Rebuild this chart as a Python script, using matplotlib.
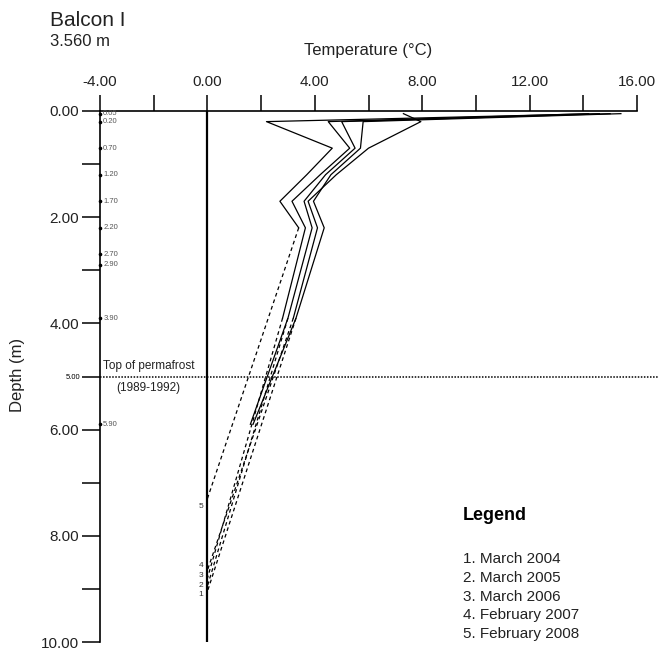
import numpy as np
import matplotlib
matplotlib.use("Agg")
import matplotlib.pyplot as plt

plt.rcParams['font.family'] = ['Liberation Sans', 'DejaVu Sans']

# Sensor depths (m) and measured temperatures (°C) for each profile
depths = [0.05, 0.20, 0.70, 1.20, 1.70, 2.20, 3.90, 5.90]
t_2004 = [15.4, 5.8, 5.7, 4.6, 3.95, 4.35, 3.3, 1.7]
t_2005 = [15.0, 5.0, 5.5, 4.4, 3.6, 3.9, 3.0, 1.6]
t_2006 = [14.2, 4.5, 5.3, 4.2, 3.15, 3.65, 2.8, np.nan]
t_2007 = [7.3, 7.95, 6.0, 4.8, 3.75, 4.1, 3.2, np.nan]
t_2008 = [14.6, 2.2, 4.65, 3.7, 2.7, 3.4, np.nan, np.nan]
profiles = [t_2004, t_2005, t_2006, t_2007, t_2008]

# Extrapolation (dashed): starting depth and depth of 0 °C
dash_start = [3.9, 3.9, 3.9, 3.9, 2.2]
zero_depth = [9.05, 8.95, 8.8, 8.65, 7.3]
profile_ids = ['1', '2', '3', '4', '5']
# small vertical nudges (m) so the crowded end labels stay readable
label_nudge = [0.05, -0.02, -0.06, -0.1, 0.15]

legend_items = ['1. March 2004', '2. March 2005', '3. March 2006',
                '4. February 2007', '5. February 2008']

sensor_depths = [0.05, 0.20, 0.70, 1.20, 1.70, 2.20, 2.70, 2.90, 3.90, 5.90]

x_major = [-4, 0, 4, 8, 12, 16]
x_minor = [-2, 2, 6, 10, 14]
y_major = [0, 2, 4, 6, 8, 10]
y_minor = [1, 3, 5, 7, 9]
permafrost_depth = 5.0

W, H = 660, 655
fig = plt.figure(figsize=(W / 100, H / 100), dpi=100)
ax = fig.add_axes([100 / W, 1 - 642 / H, 558.5 / W, 531 / H])

# Profiles (solid) and extrapolations (dashed)
for temps, d0, dz, pid, nud in zip(profiles, dash_start, zero_depth, profile_ids, label_nudge):
    ax.plot(temps, depths, color='black', lw=0.9)
    t0 = temps[depths.index(d0)]
    ax.plot([t0, 0], [d0, dz], color='black', lw=0.9, ls=(0, (3, 2.5)))
    ax.text(-0.15, dz + nud, pid, ha='right', va='center', fontsize=6, color='#333333')

# Zero line and top of permafrost
ax.axvline(0, color='black', lw=1.6)
ax.axhline(permafrost_depth, color='black', lw=1.1, ls=(0, (1, 1)))
ax.text(-3.9, permafrost_depth - 0.08, 'Top of permafrost', fontsize=8.5,
        ha='left', va='bottom', color='#222222')
ax.text(-3.4, permafrost_depth + 0.22, '(1989-1992)', fontsize=8.5,
        ha='left', va='center', color='#222222')

# Sensor depth markers on left axis
for d in sensor_depths:
    ax.plot(-4, d, marker='o', ms=1.6, color='black', clip_on=False)
    ax.text(-3.88, d, '%.2f' % d, fontsize=5.5, ha='left', va='center', color='#555555')

ax.set_xlim(-4, 16.8)
ax.set_ylim(10, 0)

# Axes styling
for s in ['right', 'bottom']:
    ax.spines[s].set_visible(False)
ax.spines['top'].set_bounds(-4, 16)
ax.spines['top'].set_linewidth(1.2)
ax.spines['left'].set_linewidth(1.2)

ax.xaxis.tick_top()
ax.set_xticks(x_major, ['%.2f' % v for v in x_major])
ax.set_xticks(x_minor, minor=True)
ax.set_yticks(y_major, ['%.2f' % v for v in y_major])
ax.set_yticks(y_minor, ['5.00' if v == 5 else '' for v in y_minor], minor=True)
ax.tick_params(axis='x', which='both', length=11.5, width=1.1, labelsize=11, pad=4, colors='black')
ax.tick_params(axis='y', which='both', length=13, width=1.1, labelsize=11, pad=2)
ax.tick_params(axis='y', which='minor', labelsize=5.5, pad=1)
for lbl in ax.get_xticklabels() + ax.get_yticklabels():
    lbl.set_color('#222222')

# Titles and labels
fig.text(50 / W, 1 - 21 / H, 'Balcon I', fontsize=15, ha='left', va='center', color='#222222')
fig.text(50 / W, 1 - 41 / H, '3.560 m', fontsize=12, ha='left', va='center', color='#222222')
fig.text(368 / W, 1 - 50 / H, 'Temperature (°C)', fontsize=12, ha='center', va='center', color='#222222')
fig.text(18 / W, 1 - 375 / H, 'Depth (m)', fontsize=12, rotation=90, ha='center', va='center', color='#222222')

# Legend as text block
fig.text(463 / W, 1 - 515 / H, 'Legend', fontsize=13, fontweight='bold', ha='left', va='center')
for i, item in enumerate(legend_items):
    fig.text(463 / W, 1 - (559 + 18.8 * i) / H, item, fontsize=11, ha='left', va='center', color='#222222')

fig.savefig('out.png', dpi=100)
